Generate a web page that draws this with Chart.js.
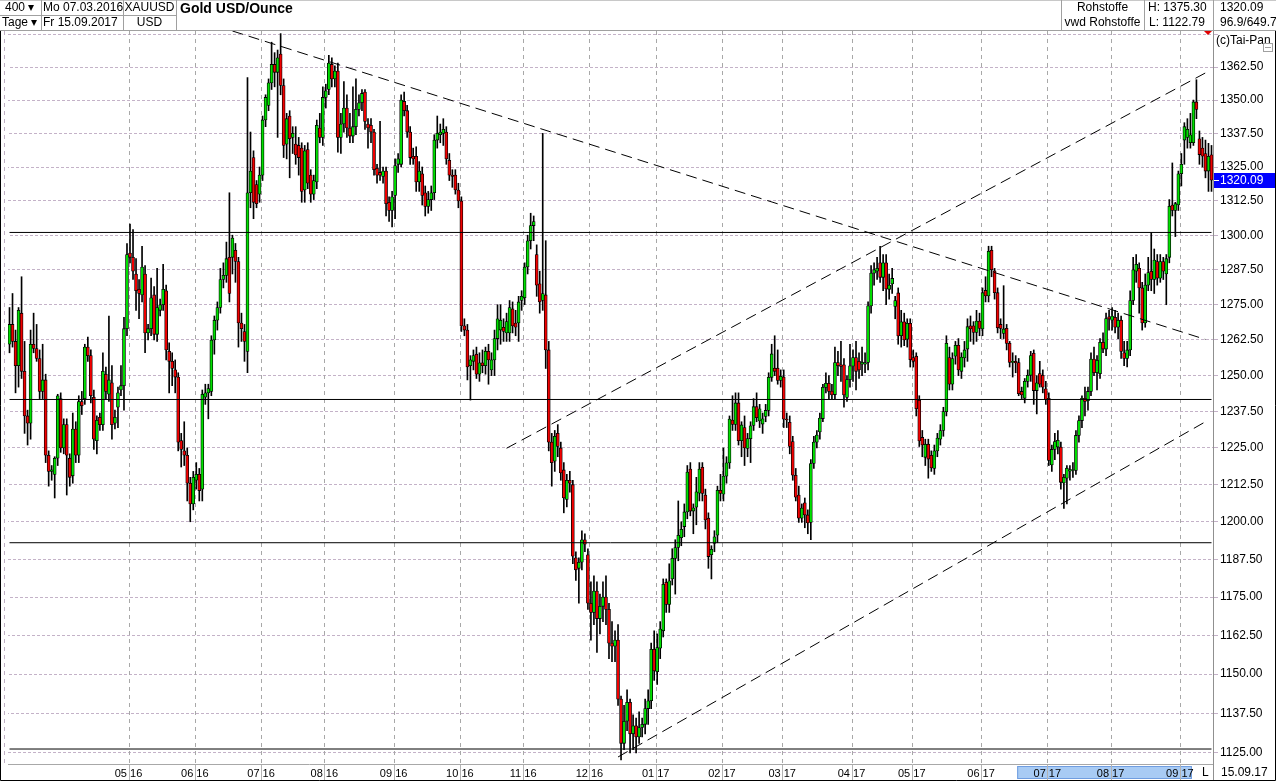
<!DOCTYPE html>
<html>
<head>
<meta charset="utf-8">
<title>Gold USD/Ounce</title>
<script src="https://cdn.jsdelivr.net/npm/chart.js@4.4.1/dist/chart.umd.min.js"></script>
<style>
  body { margin: 0; background: #fff; font-family: "Liberation Sans", Arial, sans-serif; }
  #frame { position: relative; width: 1276px; height: 781px; overflow: hidden; }
  #goldChart { position: absolute; left: 0; top: 0; }
  .t { position: absolute; font-size: 12px; line-height: 15px; height: 15px; white-space: nowrap; color: #000; }
  .c { text-align: center; }
  .b { font-weight: bold; font-size: 14px; }
  .ln { position: absolute; background: #a0a0a0; }
</style>
</head>
<body>
<div id="frame">
  <canvas id="goldChart" width="1276" height="781"></canvas>

  <!-- Kopfzeile -->
  <div class="ln" style="left:0;top:0;width:1276px;height:1px;background:#c8c8c8"></div>
  <div class="ln" style="left:0;top:30px;width:1276px;height:1px"></div>
  <div class="ln" style="left:0;top:15px;width:176px;height:1px"></div>
  <div class="ln" style="left:41px;top:0;width:1px;height:30px"></div>
  <div class="ln" style="left:123px;top:0;width:1px;height:30px"></div>
  <div class="ln" style="left:176px;top:0;width:1px;height:30px"></div>
  <div class="ln" style="left:1061px;top:0;width:1px;height:30px"></div>
  <div class="ln" style="left:1144px;top:0;width:1px;height:30px"></div>
  <div class="ln" style="left:1213px;top:0;width:1px;height:30px"></div>

  <div class="t" style="left:5px;top:0">400 &#9662;</div>
  <div class="t" style="left:2px;top:15px">Tage &#9662;</div>
  <div class="t" style="left:43px;top:0">Mo 07.03.2016</div>
  <div class="t" style="left:43px;top:15px">Fr 15.09.2017</div>
  <div class="t c" style="left:123px;top:0;width:53px">XAUUSD</div>
  <div class="t c" style="left:123px;top:15px;width:53px">USD</div>
  <div class="t b" style="left:180px;top:1px">Gold USD/Ounce</div>
  <div class="t c" style="left:1061px;top:0;width:83px">Rohstoffe</div>
  <div class="t c" style="left:1061px;top:15px;width:83px">vwd Rohstoffe</div>
  <div class="t" style="left:1148px;top:0">H: 1375.30</div>
  <div class="t" style="left:1149px;top:15px">L: 1122.79</div>
  <div class="t" style="left:1220px;top:0">1320.09</div>
  <div class="t" style="left:1220px;top:15px">96.9/649.7</div>
</div>

<script>
// Zeitraum: 400 Handelstage
const firstDay = [2016, 2, 7];
const lastDay = [2017, 8, 15];

// Monatsbeschriftung der x-Achse
const monthTicks = ['05 16', '06 16', '07 16', '08 16', '09 16', '10 16', '11 16', '12 16',
  '01 17', '02 17', '03 17', '04 17', '05 17', '06 17', '07 17', '08 17', '09 17'];

// Kursachse
const priceTicks = [1125, 1137.5, 1150, 1162.5, 1175, 1187.5, 1200, 1212.5, 1225, 1237.5,
  1250, 1262.5, 1275, 1287.5, 1300, 1312.5, 1325, 1337.5, 1350, 1362.5, 1375];
const yMin = 1121.5;
const yMax = 1376.3;

// Tageskerzen (Open / High / Low / Close)
const openPx = [
  // Mär/Apr 16
  1261,1268,1262,1253.5,1272,1251.5,1236,1233.5,1261,1259.5,1256,1244.5,1248.5,1222.5,1217,1216,1221.5,1242,1225,1233,1221.5,1215.5,1231.5,1222.5,1241,1242,1260,1257,1242.5,1227.5,1235.5,1233,1250.5,1243.5,1247.5,1233.5,1239,1245,1246.5,1266.5,
  // Mai 16
  1293.5,1292,1286,1280.5,1278.5,1286,1265,1266.5,1278.5,1264.5,1273,1275,1280,1258.5,1255,1252,1249.5,1227.5,1224,1222.5,1213,1206,
  // Jun 16
  1214,1216,1211,1242.5,1244,1244.5,1262.5,1269.5,1274,1284,1285.5,1292,1292,1294.5,1290.5,1268.5,1265.5,1258.5,1315.5,1328.5,1318.5,1315,
  // Jul 16
  1322,1342.5,1348,1356.5,1363.5,1360.5,1367.5,1355.5,1333.5,1344,1336,1333.5,1333,1332,1316.5,1331.5,1322,1315,1319.5,1339.5,1336,
  // Aug 16
  1351,1354,1363.5,1358,1361,1336,1341,1347,1339.5,1336.5,1340,1346.5,1349,1353,1341,1340.5,1338,1324.5,1323,1321.5,1323.5,1312,1309,
  // Sep 16
  1314.5,1326,1326,1349.5,1346,1338,1329,1329,1319.5,1322.5,1315.5,1310.5,1313,1315.5,1335,1337,1337.5,1338,1327.5,1322,1322,1316.5,
  // Okt 16
  1312.5,1267.5,1266,1253.5,1255,1257.5,1250.5,1254.5,1253.5,1258.5,1252,1255.5,1263,1266,1267,1265,1265,1273.5,1268.5,1268.5,1276.5,
  // Nov 16
  1277.5,1288.5,1298,1303.5,1293,1282.5,1276.5,1278.5,1259,1227,1220.5,1230,1225,1217.5,1207.5,1214,1212.5,1188,1184.5,1186.5,1194,1189,
  // Dez 16
  1173,1170,1177,1168,1172,1175,1171,1160,1159,1161,1142,1128,1135,1141,1131,1133.5,1130,1133,1134,1139,1141.5,1158,
  // Jan 17
  1150.8,1158.4,1164,1179.9,1172.6,1181,1187.8,1191.4,1194.7,1198.4,1203.3,1217.8,1203.6,1204.9,1209.6,1218.4,1209,1201.2,1189,1192.8,1195.5,1210.6,
  // Feb 17
  1209.3,1215.4,1219.9,1234.6,1233.1,1240.5,1227.5,1232,1224.8,1228.2,1232.7,1239.2,1234.3,1233.2,1235.8,1237.9,1249.4,1252.6,1252.6,1248.3,
  // Mär 17
  1249.5,1234.9,1233.8,1227.2,1215.7,1209,1201.2,1206.4,1202.3,1199.8,1219.7,1227,1230.5,1235.1,1245.9,1247.3,1244.6,1243.4,1254.6,1253.8,1253.8,1242.4,1248.6,
  // Apr 17
  1253.3,1256.3,1255,1254,1254,1254.6,1274.6,1286.3,1287,1290,1284.8,1290,1280.5,1282.4,1274.4,1279.2,1264,1268.9,1262.8,1268.4,
  // Mai 17
  1256.3,1256.8,1241.4,1228.6,1221.8,1226.3,1222.5,1218,1224,1228,1231,1237.5,1256.3,1247,1256.8,1260.6,1251.5,1256.2,1259.3,1267.5,1267.5,1265.2,1269.2,
  // Jun 17
  1266.4,1280.1,1278.1,1294.5,1287.1,1279.3,1268,1264.8,1266.6,1261.3,1254.6,1255,1254.6,1244.5,1242.1,1248,1250.1,1257.8,1244.8,1250.7,1250.1,1245.4,
  // Jul 17
  1242.1,1219.2,1224.5,1225.3,1225.3,1213.1,1214.7,1217.1,1217.3,1217.3,1229.3,1234.4,1242.1,1241.3,1244.5,1255.8,1251,1250.7,1261.7,1259.3,1270.7,
  // Aug 17
  1269.5,1270.5,1267,1269.5,1258,1256,1259,1276.5,1287,1288,1281,1268.5,1282,1287,1284,1290.5,1284.5,1290.5,1286,1292,1311,1309,1311,
  // Sep 17
  1322.5,1335,1336,1334,1334,1349.3,1335.5,1332,1330,1323.5,1329.5
];
const highPx = [
  1274,1279,1266,1274,1285,1262,1238,1266,1272,1268,1259,1261,1250.5,1224,1219,1222,1243.5,1244,1235,1235,1223,1237,1234,1243,1244.5,1261,1263.5,1259,1245,1236,1237,1258,1253,1271,1253.5,1238,1246,1253.5,1270.5,1297,
  1304,1302,1291.5,1284,1296,1289,1268,1284.5,1281.5,1288,1277,1289.5,1282,1261.5,1258,1255.5,1251,1230,1234,1225,1215,1217,
  1220,1218,1245,1247,1247,1264,1271,1276,1288,1290,1297.5,1315.5,1300,1297,1292,1272,1268,1358.5,1338,1331,1320,1325,
  1344,1352,1358,1372,1368,1369,1375.3,1358,1345,1346,1340,1340,1336,1334,1333,1334,1324,1322,1342.5,1345,1355,
  1356,1367,1366,1363,1364,1345,1357,1352,1345,1355,1358,1352,1354,1354,1343,1343,1339,1326,1342,1325,1325,1314,1316,
  1328,1330,1352,1353,1348,1340,1332,1332.5,1327,1325,1318,1316,1318,1337,1344,1341,1343,1340,1330,1324,1324,1319,
  1314,1270,1268,1257,1259,1260,1258,1259,1260,1261,1258,1266,1275,1275,1270,1272,1276.5,1276,1273,1278,1280,
  1290,1300,1308,1307,1296.5,1287,1337.5,1298,1262,1230,1231,1233,1227,1220,1216,1217,1214,1190,1188,1197,1196,1191,
  1180,1182,1180,1176,1180,1182,1173,1167,1164,1166,1143,1140,1145,1142,1137,1136,1138,1136,1142,1145,1160,1164,
  1163,1167,1181,1181,1186,1191,1194,1207,1200,1206,1219,1220,1206,1215,1220,1220,1211,1203,1192,1197,1212,1216,
  1225,1222,1236,1243,1244,1244,1234,1236,1230,1234,1242,1244,1240,1237,1240,1251,1261,1264,1259,1252,
  1252,1237,1236,1229,1218,1212,1206,1208,1204,1221,1229,1231,1237,1247,1251,1250,1247,1260,1258.5,1262,1256,1250,1261,
  1259,1262,1258,1260,1258,1276,1289,1290,1292,1296,1293,1293,1286,1288,1278,1281,1273,1272,1270,1270,
  1259,1258,1243,1231,1228,1228,1224,1226,1230,1233,1239,1264,1260,1258,1262,1263,1258,1262,1270,1271,1269,1273,1272,
  1281,1285,1296,1296,1288,1281,1270,1281.8,1268,1262,1258,1257,1256,1246,1249,1252,1258.5,1259,1250,1255,1252,1248,
  1244,1226,1230,1231,1227,1216,1219,1219,1220,1231,1236,1243,1246,1246,1258,1260,1257,1263,1265,1272,1273,
  1274,1273,1272,1271,1262,1262,1280,1292,1293,1290,1283,1286,1292,1301,1295,1293,1293,1292,1293,1313,1326.5,1312,1323.5,
  1330,1341.5,1343,1345,1350,1357.7,1338.4,1336,1335,1333.8,1333
];
const lowPx = [
  1258,1260,1244,1246,1249,1230,1226,1228,1258,1255,1242,1242,1220,1212,1214,1208,1219,1223.5,1223,1209,1212,1213,1220,1220,1236.5,1240,1255,1240.5,1224.5,1223,1231,1231,1242,1241,1228,1231.5,1232,1243,1238,1264,
  1290,1284,1273,1270,1276,1258,1262.5,1264,1262.5,1262,1271,1273,1255.5,1244,1246.5,1244,1224,1218.5,1219,1207,1200,1204,
  1211,1207,1207,1240,1235,1243,1257.5,1266,1272,1281,1283,1276,1286,1283,1260,1262,1255,1251,1310,1306,1310,1312,
  1320,1340,1346,1354,1355,1336,1352,1328.5,1328,1321,1330,1326,1322,1312,1312,1317,1312,1313,1317,1334,1333,
  1347,1352,1355,1355,1330.5,1330,1338,1336,1334,1334,1337,1344,1346,1339,1332,1334,1322,1319,1320,1319,1307,1305,1303,
  1306,1323,1325,1344,1336,1326,1326,1316,1316,1311,1307,1308,1309,1313,1332,1334,1333,1326,1320,1317.5,1315,1310,
  1265.5,1264,1248.5,1241.5,1252,1249,1248,1251,1250.5,1247,1250,1250,1259,1261,1262,1262,1262,1265,1264,1262,1273,
  1275,1286,1295,1298,1278,1272,1273,1252.5,1224,1212,1217,1222,1214,1203,1205,1210,1186,1180.5,1173,1184,1190,1171,
  1161,1166,1157,1163,1167,1166,1155,1154,1154,1140,1122.8,1126,1132,1125,1126,1125,1128,1130,1131,1134,1139,1148,
  1146.7,1155,1162,1170,1170,1179,1176,1187,1192,1195,1201,1202,1196,1199,1207,1207,1197.6,1184.5,1181,1190,1193,1207,
  1207,1213,1218,1231,1231,1226,1222,1219,1222,1220,1231,1234,1232,1230,1234,1236,1248,1250,1247,1246,
  1232,1232,1223,1214,1207,1199.8,1199.8,1198,1196,1194,1218,1225,1228,1234,1244,1242,1242,1242,1250,1248,1239,1241,1246,
  1248,1245,1249,1250,1251,1252,1272,1282,1284,1283,1280,1275,1277,1279,1270,1261,1260,1260.5,1260,1253,
  1253,1236,1225.5,1222,1219,1214.7,1217,1216,1222,1226,1229,1236,1245,1245,1254,1250,1249,1253,1255,1262,1261,1262,1264,
  1264,1276,1276,1285,1277,1265,1263,1263,1259,1253,1249.5,1251,1243,1242,1240.5,1246,1248,1240,1236.7,1246,1244,1240,
  1219,1217,1221,1223,1211,1204.5,1206,1214,1215,1216,1227,1232,1236,1238,1243,1250,1245,1249,1258,1257,1266,
  1266,1265,1263,1256,1253.5,1253,1257,1275,1283,1272,1266,1267,1280,1280,1279,1282,1283,1284,1275,1290,1307,1299.5,1309,
  1318,1326,1332,1332,1333,1343,1326,1325,1321,1316,1316
];
const closePx = [
  1268,1262,1253.5,1273,1251.5,1236,1233.5,1261,1259.5,1256,1244.5,1248.5,1222.5,1217,1217.5,1221.5,1243,1225,1233,1222.5,1215,1231.5,1222.5,1241,1239.5,1260,1257,1243,1228,1234.5,1233,1251.5,1244.5,1248.5,1233,1235.5,1244,1246.5,1266.5,1293,
  1292,1287,1280,1279,1288.5,1265,1266.5,1277.5,1264.5,1274,1275,1280.5,1259,1255,1252.5,1249.5,1227,1224.5,1222.5,1213,1206,1215,
  1216,1210.5,1243.5,1244,1245.5,1262.5,1269.5,1274,1284,1285.5,1291.5,1279,1299,1290.5,1268.5,1266.5,1262,1315.5,1323.5,1312,1311.5,1322,
  1342.5,1351,1356.5,1363.5,1360.5,1366,1355.5,1333,1343,1335.5,1337.5,1329.5,1328.5,1316,1331,1319,1315,1320,1340.5,1336,1351,
  1353.5,1364,1358,1361,1336,1341,1347,1339.5,1336.5,1340,1346.5,1349,1352.5,1342,1339.5,1338,1324,1322,1322,1323.5,1311.5,1309,1314,
  1325.5,1328,1350,1346,1338,1328.5,1328,1319.5,1323.5,1314.5,1310.5,1313,1315.5,1335,1337.5,1338,1339,1328,1322,1321.5,1316.5,1312.5,
  1267.5,1266,1253,1255.5,1257,1250.5,1254.5,1253.5,1258.5,1255.5,1255.5,1263,1270,1269.5,1265.5,1269,1274,1267.5,1267,1276,1278,
  1288.5,1298,1303.5,1305,1282,1276,1279,1259,1227,1220,1229,1225.5,1216.5,1208,1214,1213,1188.5,1184,1186.5,1194,1192.5,1173,
  1170,1177,1168,1172,1175,1171,1160,1159,1161,1142,1128,1135,1141,1131,1133.5,1130,1133,1134,1139,1141.5,1158,1151,
  1158.6,1164.6,1179.2,1172.6,1180.4,1187.8,1191.4,1195.5,1197.5,1203.3,1216.8,1203.6,1204.7,1210.1,1217.8,1209.5,1200.6,1188.4,1190.8,1195,1210.6,1209.5,
  1215.4,1219.9,1234.9,1233.1,1240.5,1227.5,1232.9,1225,1228.2,1232.6,1239.2,1235.4,1238.5,1235,1237.9,1249.4,1257.6,1251.5,1248.3,1249.8,
  1234.9,1234.6,1225.5,1215.7,1208.3,1201.2,1204.6,1202.3,1199.6,1219.7,1227,1229.4,1235.3,1245.9,1247.3,1244.5,1243.3,1254.6,1253.5,1253.2,1243.3,1248.6,1253.4,
  1256.3,1251.5,1252,1254.7,1254.6,1274.6,1286.3,1287.5,1288,1284.8,1290,1280.6,1282,1284.4,1276.5,1263.9,1268.9,1262.5,1268.4,1255.6,
  1255,1238.5,1227.4,1226,1226.3,1221.2,1218.2,1224,1228.4,1231,1237.5,1261.3,1247,1256,1260.6,1252,1256.5,1259,1267.2,1266.4,1265.2,1269.2,1266.6,
  1279.3,1278.1,1294.2,1287.5,1279.3,1266.8,1266.6,1266.4,1261.3,1254.6,1255,1254.4,1243.7,1243.3,1248,1250.1,1257,1244.8,1247.5,1247,1246,1241.7,
  1220.7,1224.5,1227.2,1227.6,1213.3,1215,1218.1,1217.6,1217.6,1229.3,1234.4,1242.1,1241,1244.5,1255.8,1251,1255.4,1261.7,1259.3,1270.1,1269.9,
  1271,1267,1269.5,1258.5,1256,1259,1276.5,1287.5,1289.5,1281,1268.5,1282,1286.5,1284,1291,1284.5,1290.5,1287,1291.5,1310.5,1309,1311.5,1322.5,
  1326,1340,1339,1337,1349.3,1346.5,1329.6,1329,1323.5,1329,1320.09
];

// horizontale Linien
const levelLines = [1301.0, 1241.7, 1193.0, 1126.2];

// Trendlinien (Start / Ende)
const trendFrom = ['17.06.16', '24.10.16', '14.12.16'];
const trendFromPx = [1376.3, 1224.9, 1123.7];
const trendTo = ['13.09.17', '14.09.17', '14.09.17'];
const trendToPx = [1262.7, 1360.9, 1234.6];

// markierter Bereich in der Zeitleiste
const rangeFrom = '19.06.17';
const rangeTo = '06.09.17';

const FONT = '"Liberation Sans", Arial, sans-serif';
const GREEN = '#00e000';
const RED = '#f00000';

// Handelstage (Mo-Fr)
const pad = n => String(n).padStart(2, '0');
const labels = [];
const monthAt = {};
let t = Date.UTC(firstDay[0], firstDay[1], firstDay[2]);
const tEnd = Date.UTC(lastDay[0], lastDay[1], lastDay[2]);
let prevMonth = null;
while (t <= tEnd) {
  const d = new Date(t);
  const wd = d.getUTCDay();
  if (wd !== 0 && wd !== 6) {
    const mm = pad(d.getUTCMonth() + 1), yy = pad(d.getUTCFullYear() % 100);
    if (prevMonth !== null && prevMonth !== mm) {
      const key = mm + ' ' + yy;
      if (monthTicks.includes(key)) monthAt[labels.length] = key;
    }
    prevMonth = mm;
    labels.push(pad(d.getUTCDate()) + '.' + mm + '.' + yy);
  }
  t += 86400000;
}
if (labels.length !== openPx.length || highPx.length !== openPx.length ||
    lowPx.length !== openPx.length || closePx.length !== openPx.length) {
  throw new Error('length mismatch ' + [labels.length, openPx.length, highPx.length, lowPx.length, closePx.length].join('/'));
}

const first = labels[0], last = labels[labels.length - 1];
const lineDefaults = { type: 'line', borderColor: '#000', borderWidth: 1, pointRadius: 0, fill: false, order: 0 };

const datasets = [
  // Dochte
  {
    type: 'bar', label: 'wick', order: 3, grouped: false,
    data: lowPx.map((l, i) => [l, highPx[i]]),
    backgroundColor: '#000', barThickness: 1, minBarLength: 1
  },
  // Kerzenkörper
  {
    type: 'bar', label: 'body', order: 2, grouped: false,
    data: openPx.map((o, i) => [o, closePx[i]]),
    backgroundColor: openPx.map((o, i) => closePx[i] >= o ? GREEN : RED),
    borderColor: '#000', borderWidth: 0.8, borderSkipped: false,
    barPercentage: 1, categoryPercentage: 1, minBarLength: 1
  }
];
levelLines.forEach(v => datasets.push(Object.assign({}, lineDefaults, {
  label: 'level', data: [{ x: first, y: v }, { x: last, y: v }]
})));
trendFrom.forEach((f, i) => datasets.push(Object.assign({}, lineDefaults, {
  label: 'trend', borderDash: [11, 6],
  data: [{ x: f, y: trendFromPx[i] }, { x: trendTo[i], y: trendToPx[i] }]
})));

// Monatslinien, Zeitleiste, Kursmarke, Rahmen
const decor = {
  id: 'decor',
  beforeDraw(chart) {
    const { ctx } = chart, x = chart.scales.x;
    const half = (x.getPixelForValue(1) - x.getPixelForValue(0)) / 2;
    const a = x.getPixelForValue(labels.indexOf(rangeFrom)) - half;
    const b = x.getPixelForValue(labels.indexOf(rangeTo)) + half;
    ctx.save();
    ctx.fillStyle = '#a8cbf4';
    ctx.fillRect(a, 766, b - a, 13);
    ctx.strokeStyle = '#6f9de0';
    ctx.strokeRect(a + 0.5, 766.5, b - a - 1, 12);
    ctx.restore();
  },
  beforeDatasetsDraw(chart) {
    const { ctx, chartArea } = chart, x = chart.scales.x;
    const half = (x.getPixelForValue(1) - x.getPixelForValue(0)) / 2;
    ctx.save();
    ctx.lineWidth = 1;
    Object.keys(monthAt).forEach(k => {
      const px = Math.round(x.getPixelForValue(+k) - half) + 0.5;
      ctx.strokeStyle = '#a8a8a8';
      ctx.setLineDash([4, 4]);
      ctx.beginPath(); ctx.moveTo(px, chartArea.top); ctx.lineTo(px, chartArea.bottom); ctx.stroke();
      ctx.strokeStyle = '#b4b4b4';
      ctx.setLineDash([]);
      ctx.beginPath(); ctx.moveTo(px, chartArea.bottom + 1); ctx.lineTo(px, chart.height - 1); ctx.stroke();
    });
    ctx.strokeStyle = '#c0b0c4';
    ctx.setLineDash([4, 4]);
    ctx.beginPath(); ctx.moveTo(4.5, chartArea.top); ctx.lineTo(4.5, chartArea.bottom); ctx.stroke();
    ctx.restore();
  },
  afterDraw(chart) {
    const { ctx, chartArea } = chart, y = chart.scales.y;
    const W = chart.width, H = chart.height;
    const lastClose = closePx[closePx.length - 1];
    const yv = Math.round(y.getPixelForValue(lastClose));
    ctx.save();
    // letzter Kurs
    ctx.fillStyle = '#0000ff';
    ctx.fillRect(chartArea.right + 1, yv - 7, W - chartArea.right - 1, 15);
    ctx.strokeStyle = '#fff';
    ctx.beginPath(); ctx.moveTo(chartArea.right + 1, yv + 0.5); ctx.lineTo(chartArea.right + 6, yv + 0.5); ctx.stroke();
    ctx.fillStyle = '#fff';
    ctx.font = '12px ' + FONT;
    ctx.textBaseline = 'middle';
    ctx.fillText(lastClose.toFixed(2), chartArea.right + 7, yv + 1);
    // Copyright
    ctx.fillStyle = '#000';
    ctx.fillText('(c)Tai-Pan', chartArea.right + 3, 41);
    ctx.strokeStyle = '#a0a0a0';
    ctx.strokeRect(1263.5, 43.5, 9, 8);
    ctx.beginPath(); ctx.moveTo(1265, 47.5); ctx.lineTo(1271, 47.5); ctx.stroke();
    // Marker oben
    ctx.fillStyle = '#e00000';
    ctx.beginPath(); ctx.moveTo(1204, 31); ctx.lineTo(1212, 31); ctx.lineTo(1208, 35); ctx.closePath(); ctx.fill();
    // Zeitleiste rechts
    ctx.fillStyle = '#000';
    ctx.fillText('L', chartArea.right - 11, 773);
    ctx.fillText(last, chartArea.right + 8, 773);
    ctx.strokeStyle = '#909090';
    ctx.beginPath(); ctx.moveTo(chartArea.right + 0.5, chartArea.bottom); ctx.lineTo(chartArea.right + 0.5, H); ctx.stroke();
    // Rahmen
    ctx.strokeStyle = '#000';
    ctx.beginPath();
    ctx.moveTo(0.5, 31); ctx.lineTo(0.5, H - 0.5); ctx.lineTo(W - 0.5, H - 0.5); ctx.lineTo(W - 0.5, 31);
    ctx.stroke();
    ctx.restore();
  }
};

Chart.defaults.font.family = FONT;
Chart.defaults.font.size = 12;
Chart.defaults.color = '#000';

const ctx = document.getElementById('goldChart').getContext('2d');
const goldChart = new Chart(ctx, {
  type: 'bar',
  data: { labels: labels, datasets: datasets },
  options: {
    responsive: false,
    animation: false,
    devicePixelRatio: 1,
    layout: { padding: { top: 31, left: 8, right: 0, bottom: 0 } },
    plugins: { legend: { display: false }, tooltip: { enabled: false } },
    scales: {
      x: {
        type: 'category',
        offset: true,
        grid: { display: false, drawTicks: false },
        border: { display: true, color: '#a8a8a8' },
        ticks: {
          autoSkip: false, maxRotation: 0, minRotation: 0,
          padding: 3, labelOffset: -1.5,
          font: { size: 11 },
          callback: (v, i) => monthAt[i] || ''
        },
        afterFit: s => { s.height = 17; }
      },
      y: {
        type: 'logarithmic',
        position: 'right',
        min: yMin,
        max: yMax,
        bounds: 'data',
        afterBuildTicks: s => { s.ticks = priceTicks.map(v => ({ value: v })); },
        grid: { color: '#c4b2c8', lineWidth: 1, tickLength: 5, tickColor: '#c4b2c8' },
        border: { display: true, color: '#909090', dash: [3, 2], dashOffset: c => ((c.index || 0) * 2) % 5 },
        ticks: {
          padding: 2,
          font: { size: 12 },
          callback: v => v >= 1375 ? '' : Number(v).toFixed(2)
        },
        afterFit: s => { s.width = 63; }
      }
    }
  },
  plugins: [decor]
});
</script>
</body>
</html>
